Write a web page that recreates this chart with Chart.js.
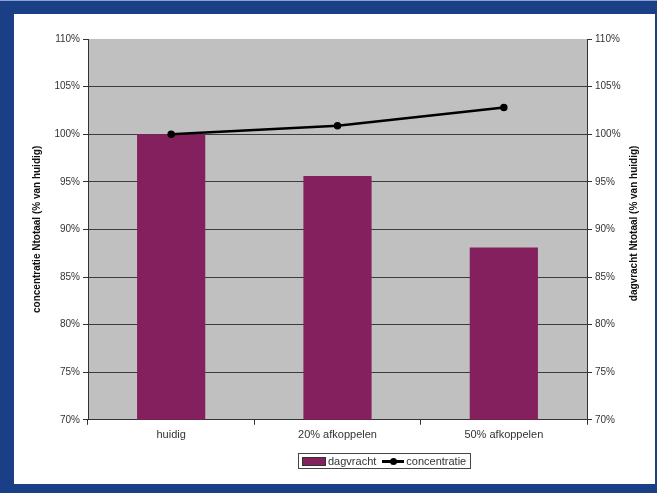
<!DOCTYPE html>
<html>
<head>
<meta charset="utf-8">
<script src="https://cdn.jsdelivr.net/npm/chart.js@4"></script>
<style>
  html, body { margin: 0; padding: 0; background: #fff; }
  #frame { position: relative; width: 657px; height: 493px; background: #1b3f86; box-sizing: border-box; border-top: 1px solid #8aa3d0; }
  #inner { position: absolute; left: 14px; top: 13px; width: 641px; height: 470px; background: #fff; }
  #chartWrap { position: absolute; left: 0; top: 0; width: 641px; height: 470px; }
  #legend { position: absolute; left: 284px; top: 439px; width: 171px; height: 14px; border: 1px solid #444;
            font: 11px "Liberation Sans", Arial, sans-serif; color: #333; display: flex; align-items: center; white-space: nowrap; }
  #legend .item { display: flex; align-items: center; }
  #legend .sw { width: 22px; height: 7px; border: 1px solid #333; margin: 0 2px 0 3px; }
  #legend .ln { position: relative; width: 22px; height: 3px; margin: 0 2px 0 6px; }
  #legend .ln i { position: absolute; left: 8px; top: -2px; width: 7px; height: 7px; border-radius: 50%; }
</style>
</head>
<body>
<div id="frame">
  <div id="inner">
    <div id="chartWrap"><canvas id="chart"></canvas></div>
    <div id="legend"></div>
  </div>
</div>
<script>
// data
const categories = ['huidig', '20% afkoppelen', '50% afkoppelen'];
const dagvracht = [100, 95.6, 88.1];          // bars, % van huidig
const concentratie = [100, 100.9, 102.8];     // line, % van huidig
const axisMin = 70;
const axisMax = 110;
const axisStep = 5;

const leftTitle = 'concentratie Ntotaal (% van huidig)';
const rightTitle = 'dagvracht Ntotaal (% van huidig)';

const barColor = '#84205e';
const fontFamily = '"Liberation Sans", Arial, sans-serif';

// grey plot background like the old Excel chart
const plotBackground = {
    id: 'plotBackground',
    beforeDraw(chart) {
        const { ctx, chartArea: a } = chart;
        ctx.save();
        ctx.fillStyle = '#c0c0c0';
        ctx.fillRect(a.left, a.top, a.right - a.left, a.bottom - a.top);
        ctx.restore();
    }
};

// right axis title reads bottom-to-top in the reference, so draw it ourselves
const rightAxisTitle = {
    id: 'rightAxisTitle',
    afterDraw(chart) {
        const { ctx, chartArea: a } = chart;
        ctx.save();
        ctx.translate(620, (a.top + a.bottom) / 2 - 6);
        ctx.rotate(-Math.PI / 2);
        ctx.font = 'bold 10px ' + fontFamily;
        ctx.fillStyle = '#111';
        ctx.textAlign = 'center';
        ctx.textBaseline = 'middle';
        ctx.fillText(rightTitle, 0, 0);
        ctx.restore();
    }
};

const tickFont = { family: fontFamily, size: 10 };

const chart = new Chart(document.getElementById('chart'), {
    type: 'bar',
    data: {
        labels: categories,
        datasets: [
            {
                type: 'line',
                label: 'concentratie',
                data: concentratie,
                yAxisID: 'y',
                borderColor: '#000',
                backgroundColor: '#000',
                borderWidth: 2.5,
                pointRadius: 2.5,
                pointBackgroundColor: '#000',
                tension: 0,
                order: 0
            },
            {
                type: 'bar',
                label: 'dagvracht',
                data: dagvracht,
                yAxisID: 'y2',
                backgroundColor: barColor,
                borderColor: '#5e1442',
                borderWidth: 0,
                categoryPercentage: 1,
                barPercentage: 0.41,
                order: 1
            }
        ]
    },
    options: {
        responsive: true,
        maintainAspectRatio: false,
        animation: false,
        layout: { padding: { top: 25, bottom: 38, left: 0, right: 0 } },
        plugins: {
            legend: { display: false },
            tooltip: { enabled: false }
        },
        scales: {
            x: {
                grid: { display: true, drawOnChartArea: false, offset: true, tickLength: 5, color: '#333' },
                border: { color: '#333' },
                ticks: { color: '#333', font: { family: fontFamily, size: 11 }, padding: 4 }
            },
            y: {
                position: 'left',
                min: axisMin,
                max: axisMax,
                afterFit: (scale) => { scale.width = 74; },
                ticks: {
                    stepSize: axisStep,
                    color: '#333',
                    font: tickFont,
                    padding: 3,
                    callback: (v) => v + '%'
                },
                grid: {
                    tickLength: 5,
                    color: (c) => c.tick && c.tick.value === axisMax ? 'rgba(0,0,0,0)' : '#3c3c3c',
                    tickColor: '#333'
                },
                border: { color: '#333' },
                title: {
                    display: true,
                    text: leftTitle,
                    color: '#111',
                    font: { family: fontFamily, size: 10, weight: 'bold' },
                    padding: { top: 17, bottom: 0 }
                }
            },
            y2: {
                position: 'right',
                min: axisMin,
                max: axisMax,
                afterFit: (scale) => { scale.width = 68; },
                ticks: {
                    stepSize: axisStep,
                    color: '#333',
                    font: tickFont,
                    padding: 3,
                    callback: (v) => v + '%'
                },
                grid: { drawOnChartArea: false, tickLength: 5, tickColor: '#333' },
                border: { color: '#333' }
            }
        }
    },
    plugins: [plotBackground, rightAxisTitle]
});

// small boxed legend under the chart, built from the datasets
const legendEl = document.getElementById('legend');
const bars = chart.data.datasets.find(d => d.type === 'bar');
const line = chart.data.datasets.find(d => d.type === 'line');
legendEl.innerHTML =
    '<span class="item"><span class="sw" style="background:' + bars.backgroundColor + '"></span>' + bars.label + '</span>' +
    '<span class="item"><span class="ln" style="background:' + line.borderColor + '"><i style="background:' + line.borderColor + '"></i></span>' + line.label + '</span>';
</script>
</body>
</html>
